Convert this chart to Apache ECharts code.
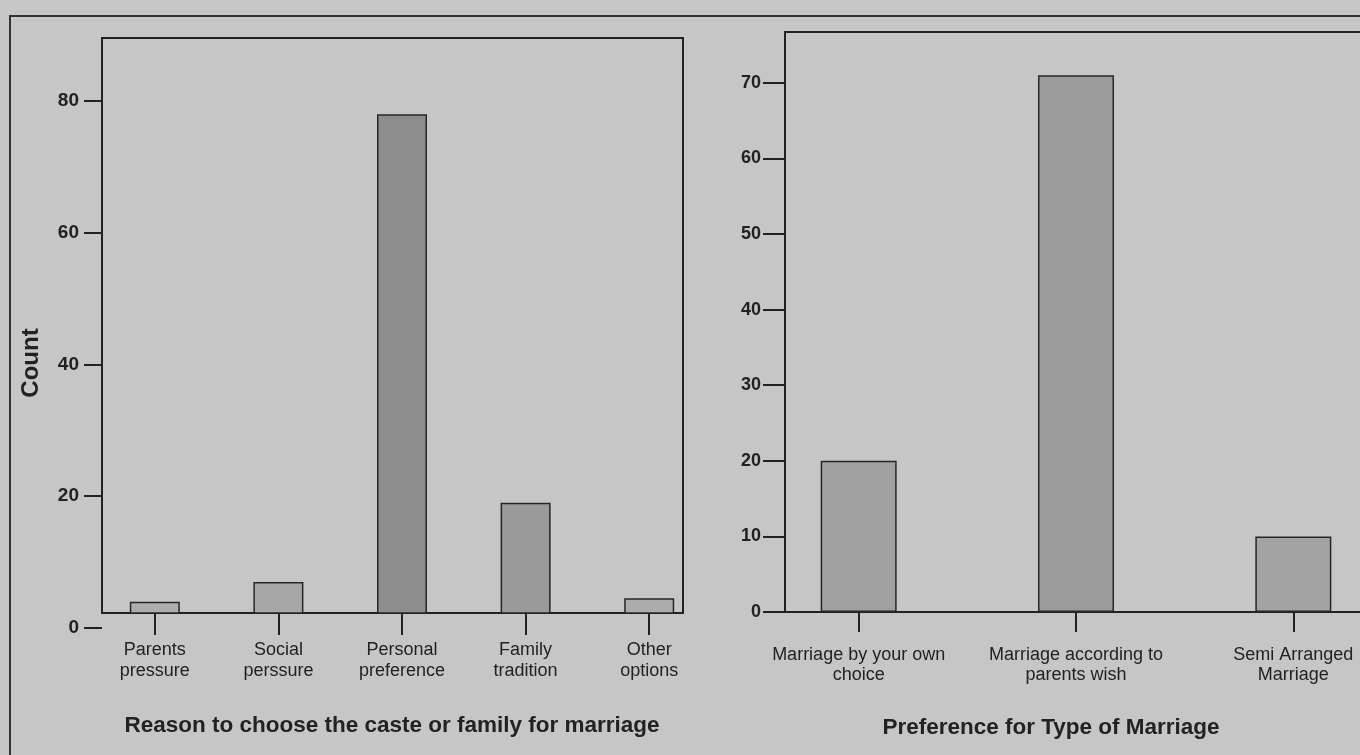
<!DOCTYPE html>
<html>
<head>
<meta charset="utf-8">
<script src="https://cdn.jsdelivr.net/npm/echarts@6/dist/echarts.min.js"></script>
<style>
  html, body { margin: 0; padding: 0; background: #c6c6c6; }
  #chart { width: 1360px; height: 755px; }
</style>
</head>
<body>
<div id="chart"></div>
<script>
// left panel: reason to choose the caste or family
const leftCategories = ['Parents\npressure', 'Social\nperssure', 'Personal\npreference', 'Family\ntradition', 'Other\noptions']
const leftCounts = [4, 7, 78, 19, 4.5]
const leftTicks = [0, 20, 40, 60, 80]

// right panel: preference for type of marriage
const rightCategories = ['Marriage by your own\nchoice', 'Marriage according to\nparents wish', 'Semi Arranged\nMarriage']
const rightCounts = [20, 71, 10]
const rightTicks = [0, 10, 20, 30, 40, 50, 60, 70]

const leftColors = ['#adadad', '#a7a7a7', '#8d8d8d', '#9a9a9a', '#acacac']
const rightColors = ['#a0a0a0', '#9b9b9b', '#a3a3a3']

const ink = '#222'
const font = 'Liberation Sans'

const chart = echarts.init(document.getElementById('chart'))

const hiddenCat = (g) => ({ gridIndex: g, type: 'category', show: false })
const hiddenVal = (g, min, max) => ({ gridIndex: g, type: 'value', show: false, min: min, max: max })

const option = {
  backgroundColor: '#c6c6c6',
  animation: false,
  textStyle: { fontFamily: font, color: ink },
  title: [
    {
      text: 'Reason to choose the caste or family for marriage',
      left: 392, top: 714, textAlign: 'center', padding: 0,
      textStyle: { fontFamily: font, fontSize: 22.5, fontWeight: 'bold', color: ink }
    },
    {
      text: 'Preference for Type of Marriage',
      left: 1051, top: 716, textAlign: 'center', padding: 0,
      textStyle: { fontFamily: font, fontSize: 22.5, fontWeight: 'bold', color: ink }
    }
  ],
  graphic: [
    {
      type: 'rect', z: -1,
      shape: { x: 10, y: 16, width: 1400, height: 800 },
      style: { fill: 'none', stroke: '#333', lineWidth: 2 }
    },
    {
      type: 'text', x: 31, y: 363, rotation: Math.PI / 2,
      style: {
        text: 'Count', textAlign: 'center', textVerticalAlign: 'middle',
        font: 'bold 24px "Liberation Sans"', fill: ink
      }
    }
  ],
  grid: [
    // left frame
    { left: 102, top: 38, width: 581, height: 575, outerBoundsMode: 'none', show: true, borderColor: ink, borderWidth: 2, backgroundColor: 'transparent' },
    // left count axis (its zero sits below the frame)
    { left: 102, top: 38, width: 581, height: 590, outerBoundsMode: 'none' },
    // left bars
    { left: 93, top: 38, width: 618, height: 575, outerBoundsMode: 'none' },
    // right frame, runs off the right edge
    { left: 785, top: 32, width: 660, height: 580, outerBoundsMode: 'none', show: true, borderColor: ink, borderWidth: 2, backgroundColor: 'transparent' },
    // right bars
    { left: 750, top: 32, width: 652, height: 580, outerBoundsMode: 'none' }
  ],
  xAxis: [
    hiddenCat(0),
    hiddenCat(1),
    {
      gridIndex: 2,
      type: 'category',
      data: leftCategories,
      axisLine: { show: false },
      axisTick: { show: true, alignWithLabel: true, length: 22, lineStyle: { color: ink, width: 2 } },
      axisLabel: { interval: 0, margin: 27, fontSize: 18, lineHeight: 21, color: ink, fontFamily: font }
    },
    hiddenCat(3),
    {
      gridIndex: 4,
      type: 'category',
      data: rightCategories,
      axisLine: { show: false },
      axisTick: { show: true, alignWithLabel: true, length: 20, lineStyle: { color: ink, width: 2 } },
      axisLabel: { interval: 0, margin: 33, fontSize: 18, lineHeight: 20, color: ink, fontFamily: font }
    }
  ],
  yAxis: [
    hiddenVal(0, 0, 1),
    {
      gridIndex: 1,
      type: 'value',
      min: 0,
      max: 89.56,
      axisLine: { show: false },
      splitLine: { show: false },
      axisTick: { show: true, length: 18, customValues: leftTicks, lineStyle: { color: ink, width: 2 } },
      axisLabel: { customValues: leftTicks, margin: 23, fontSize: 19, fontWeight: 'bold', color: ink, fontFamily: font }
    },
    hiddenVal(2, 2.277, 89.56),
    {
      gridIndex: 3,
      type: 'value',
      min: 0,
      max: 76.72,
      axisLine: { show: false },
      splitLine: { show: false },
      axisTick: { show: true, length: 22, customValues: rightTicks, lineStyle: { color: ink, width: 2 } },
      axisLabel: { customValues: rightTicks, margin: 24, fontSize: 18, fontWeight: 'bold', color: ink, fontFamily: font }
    },
    hiddenVal(4, 0, 76.72)
  ],
  series: [
    {
      name: 'Reason',
      type: 'bar',
      xAxisIndex: 2,
      yAxisIndex: 2,
      barWidth: 50,
      clip: true,
      silent: true,
      itemStyle: { borderColor: '#262626', borderWidth: 1.5 },
      data: leftCounts.map((v, i) => ({ value: v, itemStyle: { color: leftColors[i] } }))
    },
    {
      name: 'Preference',
      type: 'bar',
      xAxisIndex: 4,
      yAxisIndex: 4,
      barWidth: 76,
      clip: true,
      silent: true,
      itemStyle: { borderColor: '#262626', borderWidth: 1.5 },
      data: rightCounts.map((v, i) => ({ value: v, itemStyle: { color: rightColors[i] } }))
    }
  ]
}

chart.setOption(option)
</script>
</body>
</html>
